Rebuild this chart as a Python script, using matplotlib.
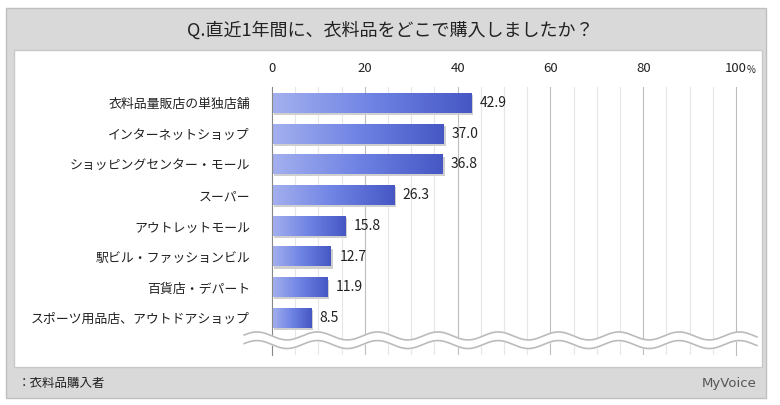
import numpy as np
import matplotlib.pyplot as plt
from matplotlib.patches import Rectangle
from matplotlib.colors import LinearSegmentedColormap

plt.rcParams['font.family'] = 'Noto Sans CJK JP'

# データ
categories = ['衣料品量販店の単独店舗', 'インターネットショップ', 'ショッピングセンター・モール',
              'スーパー', 'アウトレットモール', '駅ビル・ファッションビル', '百貨店・デパート',
              'スポーツ用品店、アウトドアショップ']
values = [42.9, 37.0, 36.8, 26.3, 15.8, 12.7, 11.9, 8.5]
ticks = [0, 20, 40, 60, 80, 100]
tick_labels = ['0', '20', '40', '60', '80', '100']

fig = plt.figure(figsize=(7.8, 4.05), dpi=100)
fig.patch.set_facecolor('white')

# 外枠（グレー）と白いパネル
fig.patches.append(Rectangle((6/780, 1-398/405), 760/780, 390/405, transform=fig.transFigure,
                             facecolor='#d9d9d9', edgecolor='#bfbfbf', lw=1, zorder=-2))
fig.patches.append(Rectangle((14/780, 1-367/405), 748/780, 317/405, transform=fig.transFigure,
                             facecolor='white', edgecolor='#c8c8c8', lw=1, zorder=-1))
fig.text(0.5, 1-30/405, 'Q.直近1年間に、衣料品をどこで購入しましたか？', ha='center', va='center',
         fontsize=13, color='#222222')
fig.text(18/780, 1-383/405, '：衣料品購入者', ha='left', va='center', fontsize=9, color='#222222')
fig.text(757/780, 1-383/405, 'MyVoice', ha='right', va='center', fontsize=9.5, color='#555555',
         family='DejaVu Sans')

ax = fig.add_axes([272/780, 1-355/405, 464/780, 268/405])
ax.set_xlim(0, 100)
ax.set_facecolor('none')

for x in np.arange(5, 100, 5):
    ax.axvline(x, color='#e6e6e6' if x % 20 else '#bdbdbd', lw=0.8, zorder=0)
for s in ['top', 'bottom']:
    ax.spines[s].set_visible(False)
ax.spines['left'].set_color('#888888')
ax.spines['right'].set_color('#bdbdbd')

cmap = LinearSegmentedColormap.from_list('g', ['#a4b0ee', '#6f83e4', '#4657c4'])
grad = np.linspace(0, 1, 256).reshape(1, -1)
h = 0.64
for i, v in enumerate(values):
    ax.add_patch(Rectangle((0.4, i - h/2 + 0.07), v, h, facecolor='#cfcfcf', edgecolor='none', zorder=1))
    ax.imshow(grad, cmap=cmap, aspect='auto', extent=(0, v, i + h/2, i - h/2), zorder=2)
    ax.text(v + 1.8, i, f'{v:.1f}', va='center', ha='left', fontsize=10, color='#222222')

ax.set_yticks(range(len(categories)))
ax.set_yticklabels(categories, fontsize=9.3, color='#222222')
ax.tick_params(axis='y', length=0, pad=16)
ax.xaxis.tick_top()
ax.set_xticks(ticks)
ax.set_xticklabels(tick_labels, fontsize=9.5, color='#222222')
ax.tick_params(axis='x', length=0, pad=9)
ax.set_xlim(0, 100)
ax.set_ylim(8.2, -0.52)

# 省略の波線
xw = np.linspace(-6, 104.5, 400)
yw = 7.72 + 0.13 * np.sin(xw / 13.0 * 2 * np.pi)
ax.fill_between(xw, yw - 0.14, yw + 0.14, color='white', zorder=5, clip_on=False)
ax.plot(xw, yw - 0.14, color='#bbbbbb', lw=1.2, zorder=6, clip_on=False)
ax.plot(xw, yw + 0.14, color='#bbbbbb', lw=1.2, zorder=6, clip_on=False)

fig.text(747/780, 1-70/405, '%', fontsize=7, color='#222222', va='center', ha='left')

fig.savefig('out.png', dpi=100)
